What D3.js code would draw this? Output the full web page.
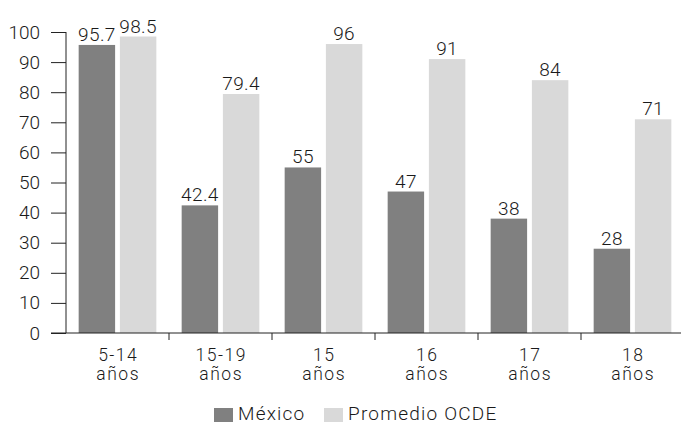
<!DOCTYPE html>
<html><head><meta charset="utf-8">
<script src="https://cdn.jsdelivr.net/npm/d3@7"></script>
<style>body{margin:0;background:#fff}svg{display:block}text{font-family:Roboto,sans-serif;font-weight:300;fill:#1a1a1a}</style>
</head><body>
<svg id="c" width="681" height="425"></svg>
<script>
const categories = [["5-14","años"],["15-19","años"],["15","años"],["16","años"],["17","años"],["18","años"]];
const seriesNames = ["México","Promedio OCDE"];
const mexico = [95.7, 42.4, 55, 47, 38, 28];
const ocde = [98.5, 79.4, 96, 91, 84, 71];
const yTicks = [0,10,20,30,40,50,60,70,80,90,100];
const colors = ["#808080","#d9d9d9"];
const FS = 19;

const svg = d3.select("#c");
const keys = categories.map(c => c.join(" "));
const x = d3.scaleBand().domain(keys).range([66, 684]).padding(0);
const xi = d3.scaleBand().domain(seriesNames).range([0, x.bandwidth()]).paddingInner(0.116).paddingOuter(0.307);
const y = d3.scaleLinear().domain([0,100]).range([333, 32]);

const series = [mexico, ocde];
series.forEach((vals, si) => {
  const g = svg.append("g");
  g.selectAll("rect").data(vals).join("rect")
    .attr("x", (d,i) => x(keys[i]) + xi(seriesNames[si]))
    .attr("y", d => y(d))
    .attr("width", xi.bandwidth())
    .attr("height", d => y(0) - y(d))
    .attr("fill", colors[si]);
  g.selectAll("text").data(vals).join("text")
    .attr("x", (d,i) => x(keys[i]) + xi(seriesNames[si]) + xi.bandwidth()/2)
    .attr("y", d => y(d) - 4)
    .attr("text-anchor","middle")
    .attr("font-size", FS)
    .attr("letter-spacing", 0.4)
    .text(d => d);
});

// y axis
const yAxis = svg.append("g").attr("transform","translate(66,0)")
  .call(d3.axisLeft(y).tickValues(yTicks).tickSize(15).tickPadding(11).tickFormat(d3.format("d")));
yAxis.select(".domain").attr("d", `M0,${y(100)}V${y(0)}`).attr("stroke","#222");
yAxis.selectAll(".tick line").attr("stroke","#222");
yAxis.selectAll("text").attr("font-size",FS).attr("font-family","Roboto,sans-serif").attr("font-weight",300).attr("fill","#1a1a1a");

// x axis
const xg = svg.append("g").attr("transform",`translate(0,${y(0)})`);
xg.append("line").attr("x1",51).attr("x2",684).attr("stroke","#222");
xg.selectAll("line.t").data(keys.slice(1)).join("line").attr("class","t")
  .attr("x1", d => x(d)).attr("x2", d => x(d)).attr("y1",0).attr("y2",7).attr("stroke","#222");
const xc = (i) => x(keys[i]) + x.bandwidth()/2 + 0.7;
xg.selectAll("text.l1").data(categories).join("text").attr("class","l1")
  .attr("text-anchor","middle").attr("font-size",17.5).attr("letter-spacing",1.5)
  .attr("x",(d,i) => xc(i)).attr("y",28).text(d => d[0]);
xg.selectAll("text.l2").data(categories).join("text").attr("class","l2")
  .attr("text-anchor","middle").attr("font-size",17.5).attr("letter-spacing",1.5)
  .attr("x",(d,i) => xc(i)).attr("y",47).text(d => d[1]);

// legend
const legX = [214, 324];
const lg = svg.append("g");
seriesNames.forEach((n,i) => {
  lg.append("rect").attr("x",legX[i]).attr("y",408).attr("width",19).attr("height",14).attr("fill",colors[i]);
  lg.append("text").attr("x",legX[i]+24).attr("y",420).attr("font-size",FS).attr("letter-spacing",1.2).text(n);
});
</script>
</body></html>
